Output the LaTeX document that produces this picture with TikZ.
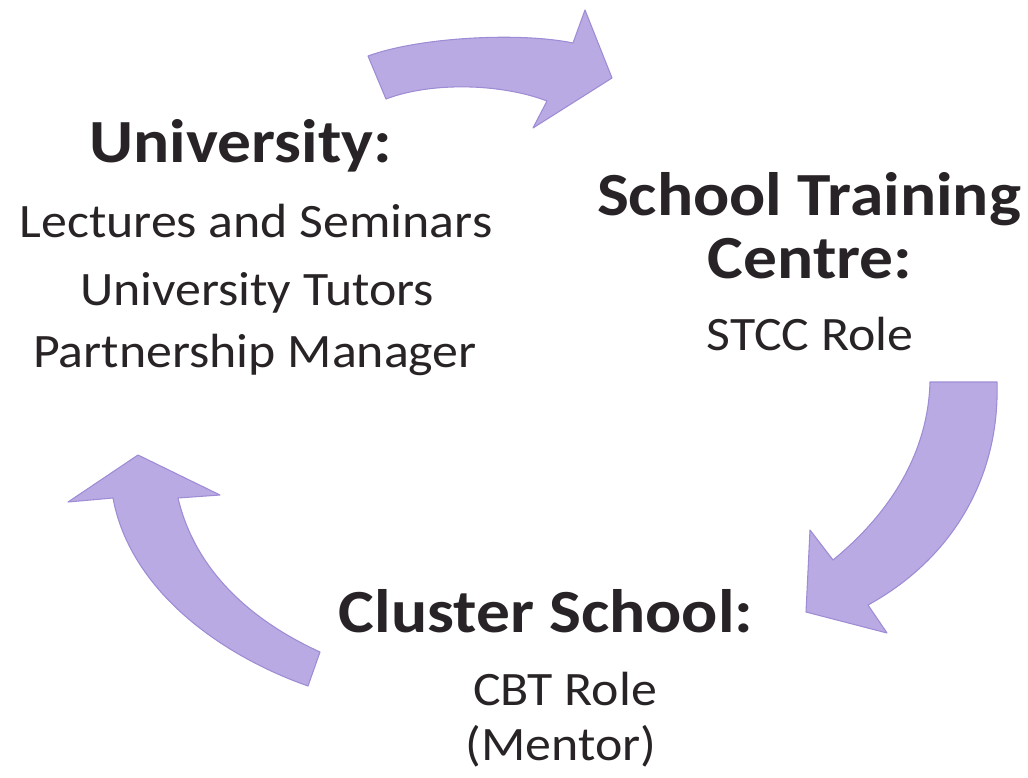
\documentclass[tikz,border=0pt]{standalone}
\usepackage{fontspec}
\setmainfont{Carlito}
\newfontfamily\headfont{Carlito}[FakeStretch=1.1]
\newfontfamily\bodyfont{Carlito}[FakeStretch=1.08]
\definecolor{arrowfill}{RGB}{185,170,228}
\definecolor{arrowedge}{RGB}{158,140,212}
\definecolor{ink}{RGB}{40,35,38}
\tikzset{
  cyclearrow/.style={fill=arrowfill, draw=arrowedge, line width=0.8pt, line join=round},
  headtext/.style={anchor=base, inner sep=0pt, text=ink, font=\headfont\fontsize{46}{50}\selectfont\bfseries},
  bodytext/.style={anchor=base, inner sep=0pt, text=ink, font=\bodyfont\fontsize{36}{40}\selectfont},
}
\begin{document}
\begin{tikzpicture}[x=0.75pt,y=-0.75pt]
\useasboundingbox (0,0) rectangle (1028,778);
% arrows
\path[cyclearrow] (368,56) .. controls (420,37) and (520,32) .. (573,43)
  -- (585,10) -- (612,78) -- (533,128) -- (547,101)
  .. controls (500,83) and (430,82) .. (386,99) -- cycle;
\path[cyclearrow] (930,382) -- (997,382)
  .. controls (1000,480) and (950,560) .. (868,605)
  -- (887,633) -- (806,612) -- (810,530) -- (833,560)
  .. controls (888,515) and (928,455) .. (930,382) -- cycle;
\path[cyclearrow] (138,455) -- (220,495) -- (178,498)
  .. controls (195,570) and (250,620) .. (320,652)
  -- (308,686) .. controls (220,655) and (130,590) .. (113,498)
  -- (68,502) -- cycle;
% University
\node[headtext] (uni) at (241,162) {University:};
\node[bodytext] (lect) at (256,237) {Lectures and Seminars};
\node[bodytext] (tut) at (257,305) {University Tutors};
\node[bodytext] (pm) at (255,367) {Partnership Manager};
% School Training Centre
\node[headtext] (stc1) at (809,215) {School Training};
\node[headtext] (stc2) at (810,278) {Centre:};
\node[bodytext] (stcc) at (810,350) {STCC Role};
% Cluster School
\node[headtext] (cs) at (546,632) {Cluster School:};
\node[bodytext] (cbt) at (565,705) {CBT Role};
\node[bodytext] (ment) at (561,760) {(Mentor)};
\end{tikzpicture}
\end{document}
